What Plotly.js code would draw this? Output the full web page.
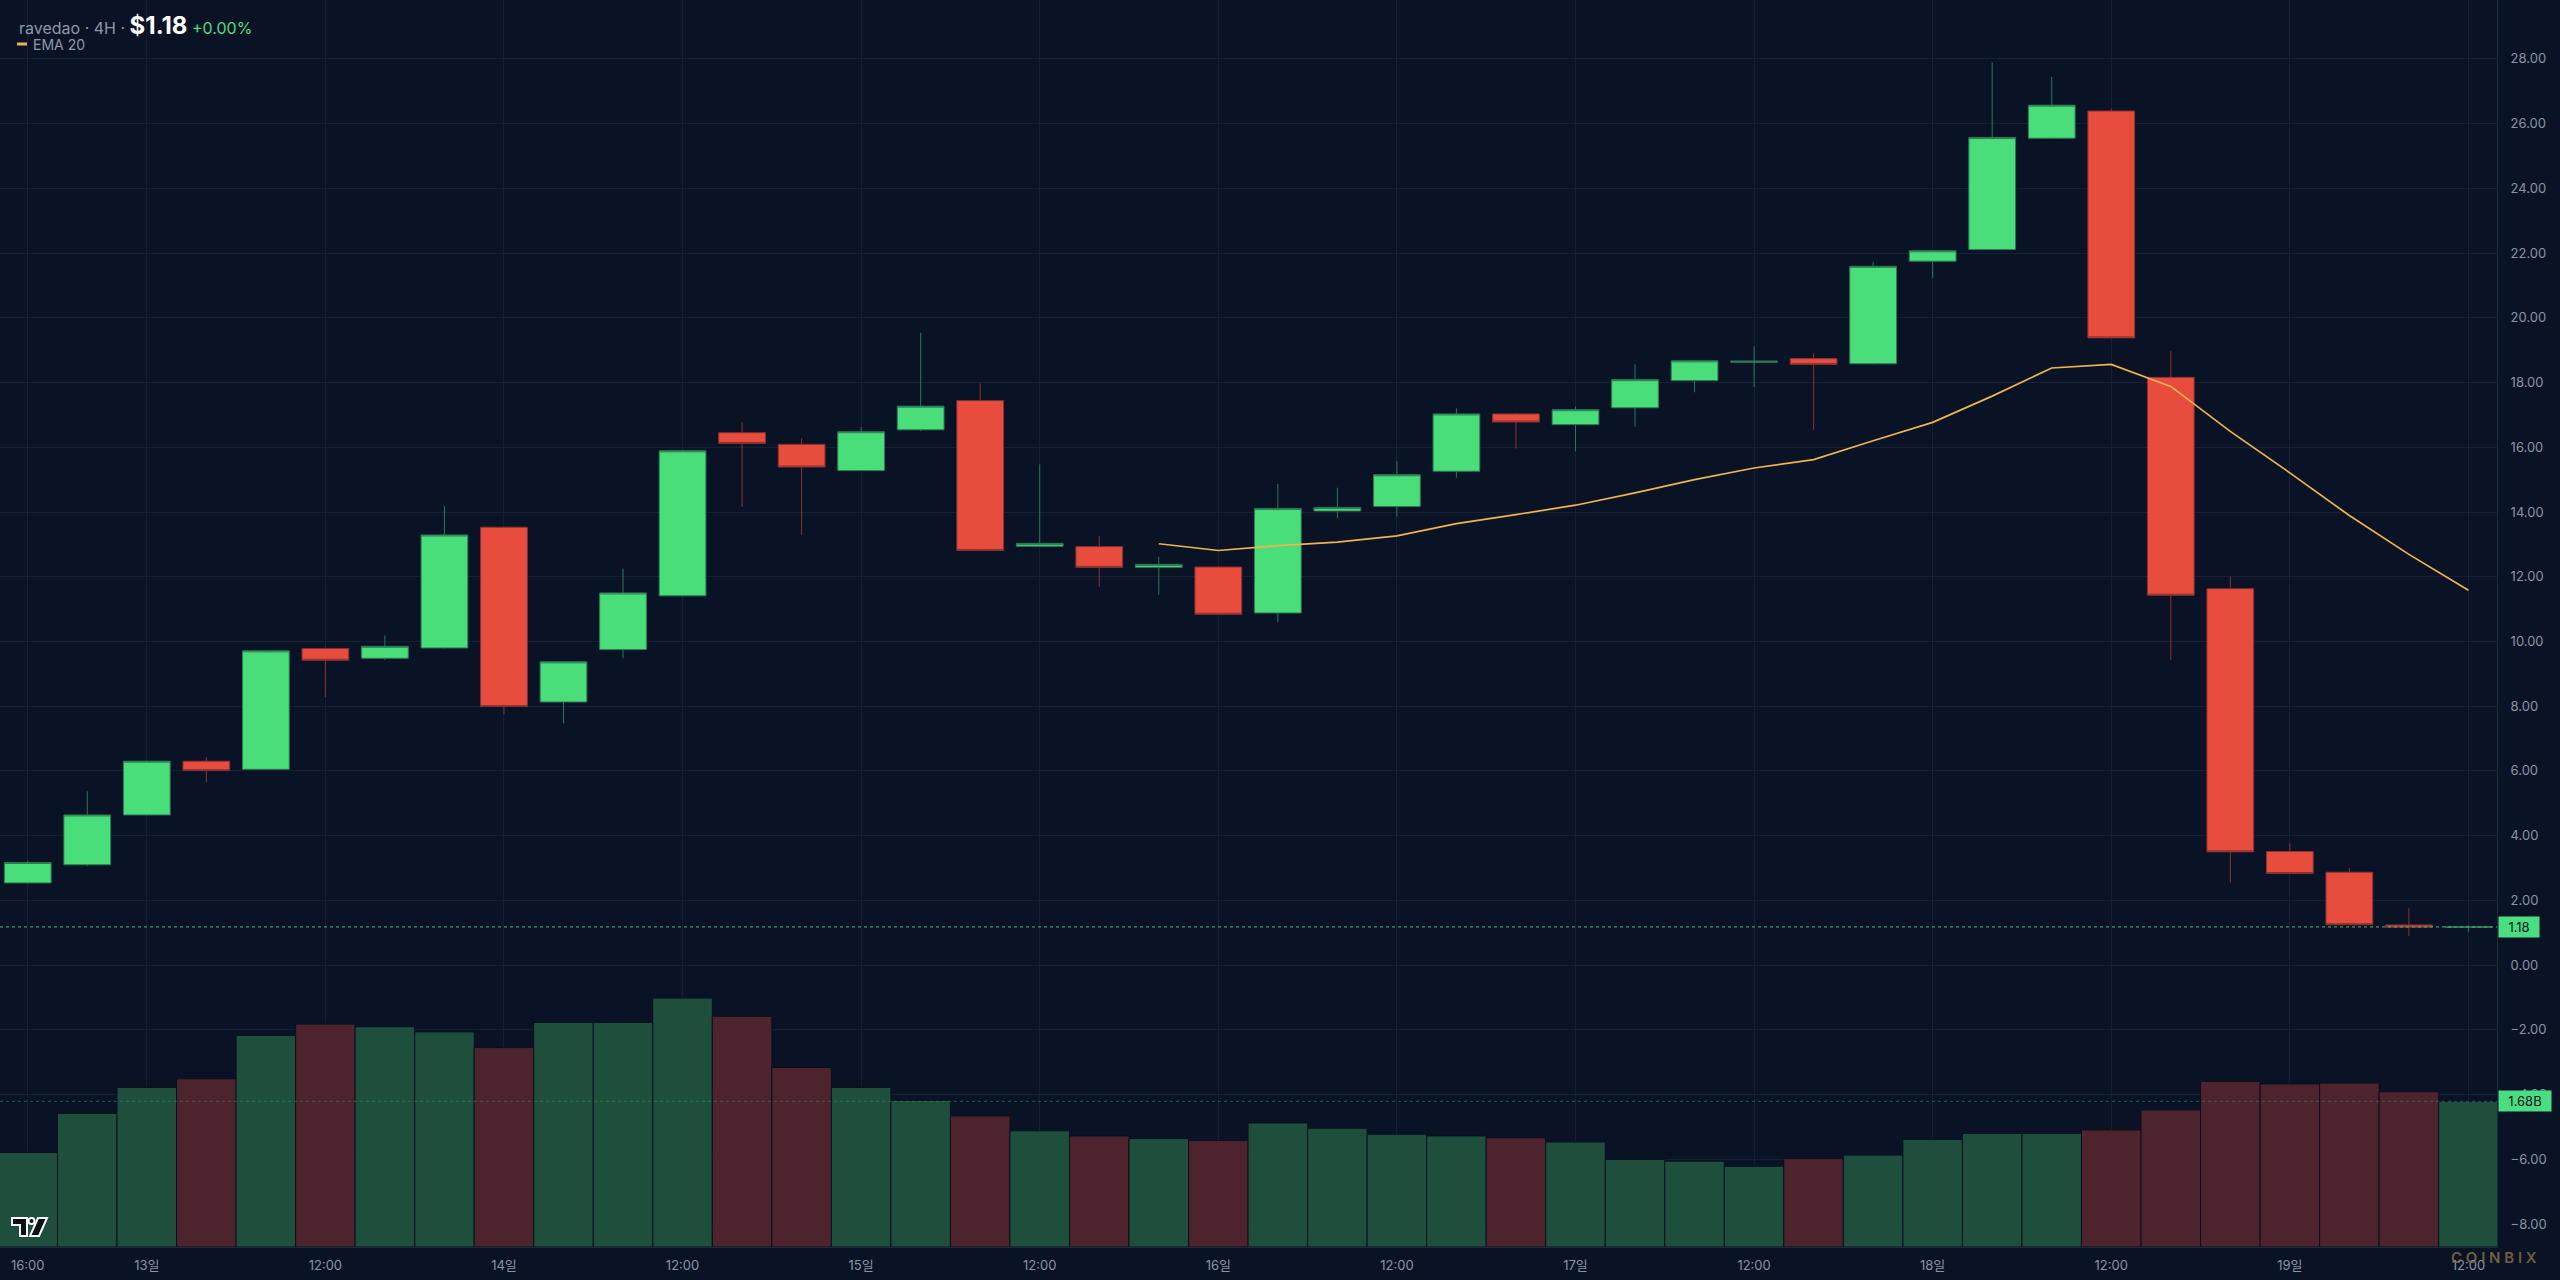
<!DOCTYPE html>
<html><head><meta charset="utf-8">
<script src="https://cdn.plot.ly/plotly-3.0.1.min.js"></script>
<style>html,body{margin:0;padding:0;background:#0a1326;}#chart{width:2560px;height:1280px;}</style>
</head><body><div id="chart"></div>
<script>
// ---- data ----
const symbol = "ravedao";
const interval = "4H";
const changePct = "+0.00%";
const times = [
 "12일 16:00","12일 20:00",
 "13일 00:00","13일 04:00","13일 08:00","13일 12:00","13일 16:00","13일 20:00",
 "14일 00:00","14일 04:00","14일 08:00","14일 12:00","14일 16:00","14일 20:00",
 "15일 00:00","15일 04:00","15일 08:00","15일 12:00","15일 16:00","15일 20:00",
 "16일 00:00","16일 04:00","16일 08:00","16일 12:00","16일 16:00","16일 20:00",
 "17일 00:00","17일 04:00","17일 08:00","17일 12:00","17일 16:00","17일 20:00",
 "18일 00:00","18일 04:00","18일 08:00","18일 12:00","18일 16:00","18일 20:00",
 "19일 00:00","19일 04:00","19일 08:00","19일 12:00"
];
const open  = [2.54,3.10,4.64,6.30,6.05,9.78,9.48,9.80,13.53,8.13,9.75,11.41,16.45,16.09,15.28,16.54,17.44,12.94,12.93,12.29,12.30,10.88,14.03,14.17,15.26,17.03,16.70,17.22,18.06,18.63,18.74,18.58,21.75,22.11,25.55,26.39,18.16,11.63,3.51,2.87,1.24,1.17];
const high  = [3.23,5.37,6.32,6.42,9.74,9.82,10.18,14.18,13.55,9.39,12.25,15.92,16.77,16.27,16.63,19.54,17.98,15.47,13.25,12.62,12.32,14.86,14.75,15.57,17.20,17.05,17.26,18.56,18.69,19.12,18.90,21.73,22.09,27.89,27.44,26.46,18.97,12.00,3.76,3.00,1.77,1.22];
const low   = [2.52,3.06,4.62,5.64,6.03,8.28,9.42,9.78,7.76,7.47,9.48,11.39,14.16,13.29,15.26,16.50,12.79,12.92,11.69,11.44,10.82,10.60,13.81,13.85,15.06,15.96,15.87,16.64,17.70,17.86,16.54,18.56,21.22,22.09,25.53,19.36,9.43,2.55,2.81,1.23,0.90,1.03];
const close = [3.17,4.64,6.30,6.01,9.71,9.42,9.85,13.29,7.99,9.37,11.50,15.89,16.12,15.39,16.48,17.27,12.81,13.03,12.29,12.38,10.84,14.11,14.14,15.15,17.03,16.78,17.16,18.09,18.67,18.66,18.56,21.59,22.07,25.57,26.57,19.38,11.43,3.50,2.83,1.25,1.17,1.18];
const volumeB = [1.09,1.54,1.84,1.94,2.44,2.57,2.54,2.48,2.30,2.59,2.59,2.87,2.66,2.07,1.84,1.69,1.51,1.34,1.28,1.25,1.23,1.43,1.37,1.30,1.28,1.26,1.21,1.01,0.99,0.93,1.02,1.06,1.24,1.31,1.31,1.35,1.58,1.91,1.88,1.89,1.79,1.68];
const ema20 = [null,null,null,null,null,null,null,null,null,null,null,null,null,null,null,null,null,null,null,
 13.02,12.81,12.96,13.07,13.26,13.64,13.92,14.21,14.59,15.00,15.36,15.62,16.20,16.77,17.58,18.45,18.56,17.88,16.49,15.21,13.89,12.69,11.58];
const xTickVals = ["12일 16:00","13일 00:00","13일 12:00","14일 00:00","14일 12:00","15일 00:00","15일 12:00","16일 00:00","16일 12:00","17일 00:00","17일 12:00","18일 00:00","18일 12:00","19일 00:00","19일 12:00"];
const xTickText = ["16:00","13일","12:00","14일","12:00","15일","12:00","16일","12:00","17일","12:00","18일","12:00","19일","12:00"];
const yTickVals = [28,26,24,22,20,18,16,14,12,10,8,6,4,2,0,-2,-4,-6,-8];
const yTickText = ["28.00","26.00","24.00","22.00","20.00","18.00","16.00","14.00","12.00","10.00","8.00","6.00","4.00","2.00","0.00","\u22122.00","\u22124.00","\u22126.00","\u22128.00"];

// ---- style ----
const BG = "#0a1326";
const GRID = "#161f33";
const AXT = "#8a93a5";
const UP = "#4ade7b", DN = "#e74c3c";
const UPV = "#1e4f3d", DNV = "#4d232d";
const FONT = "Inter, 'Noto Sans CJK KR', sans-serif";
const W = 2560, H = 1280, MR = 63, MB = 33;
const PW = W - MR, PH = H - MB;
const px = X => X / PW, py = Y => 1 - Y / PH;

const last = close.length - 1;
const lastClose = close[last];
const lastVol = volumeB[last];
const volColors = close.map((c, i) => c >= open[i] ? UPV : DNV);

const traces = [
  {type: "bar", x: times, y: volumeB, yaxis: "y", xaxis: "x",
   marker: {color: volColors, line: {color: "rgba(8,14,28,0.9)", width: 1}},
   hoverinfo: "skip", showlegend: false},
  {type: "candlestick", x: times, open: open, high: high, low: low, close: close,
   yaxis: "y2", xaxis: "x", whiskerwidth: 0,
   increasing: {line: {color: "#2a7a52", width: 1}, fillcolor: UP},
   decreasing: {line: {color: "#8a3232", width: 1}, fillcolor: DN},
   showlegend: false},
  {type: "scatter", mode: "lines", x: times, y: ema20, yaxis: "y2", xaxis: "x",
   line: {color: "#f0b44c", width: 1.7}, connectgaps: false, showlegend: false, hoverinfo: "skip"}
];

const layout = {
  width: W, height: H,
  paper_bgcolor: BG, plot_bgcolor: BG,
  margin: {l: 0, r: MR, t: 0, b: MB, pad: 0},
  showlegend: false,
  bargap: 0, boxgap: 0.215, boxgroupgap: 0,
  font: {family: FONT, color: AXT, size: 13},
  xaxis: {type: "category", range: [-0.466, 41.48], rangeslider: {visible: false},
    tickmode: "array", tickvals: xTickVals, ticktext: xTickText,
    showgrid: true, gridcolor: GRID, gridwidth: 1, zeroline: false,
    showline: true, linecolor: "#1a2a38", linewidth: 1,
    ticks: "", ticklabelstandoff: 6, tickfont: {size: 13, color: AXT, family: FONT}},
  yaxis: {range: [0, 14.38], visible: false, showgrid: false, zeroline: false, fixedrange: true},
  yaxis2: {overlaying: "y", side: "right", range: [-8.71, 29.82],
    tickmode: "array", tickvals: yTickVals, ticktext: yTickText,
    showgrid: true, gridcolor: GRID, gridwidth: 1, zeroline: false,
    showline: true, linecolor: "#1a2a38", linewidth: 1,
    ticks: "", ticklabelstandoff: 10, tickfont: {size: 13, color: AXT, family: FONT}},
  shapes: [
    {type: "line", xref: "paper", yref: "y2", x0: 0, x1: 1, y0: lastClose, y1: lastClose,
     line: {color: "#35c27a", width: 1, dash: "dot"}, layer: "above"},
    {type: "line", xref: "paper", yref: "y", x0: 0, x1: 1, y0: lastVol, y1: lastVol,
     line: {color: "rgba(60,150,100,0.55)", width: 1, dash: "dot"}, layer: "above"},
    // EMA legend swatch
    {type: "line", xref: "paper", yref: "paper", x0: px(17), x1: px(27), y0: py(44), y1: py(44),
     line: {color: "#f0b44c", width: 3}},
    // logo
    {type: "path", xref: "paper", yref: "paper",
     path: `M ${px(12)},${py(1218)} L ${px(27)},${py(1218)} L ${px(27)},${py(1236)} L ${px(20)},${py(1236)} L ${px(20)},${py(1225)} L ${px(12)},${py(1225)} Z`,
     fillcolor: "#0d1016", line: {color: "#ffffff", width: 2}},
    {type: "circle", xref: "paper", yref: "paper", x0: px(28.5), x1: px(34.5), y0: py(1224), y1: py(1218),
     fillcolor: "#0d1016", line: {color: "#ffffff", width: 2}},
    {type: "path", xref: "paper", yref: "paper",
     path: `M ${px(38)},${py(1218)} L ${px(47)},${py(1218)} L ${px(39)},${py(1236)} L ${px(30)},${py(1236)} Z`,
     fillcolor: "#0d1016", line: {color: "#ffffff", width: 2}}
  ],
  annotations: [
    {xref: "paper", yref: "paper", x: px(17), y: py(26), xanchor: "left", yanchor: "middle", showarrow: false,
     text: `${symbol} · ${interval} · <b><span style="font-size:24px;color:#ffffff">$${lastClose.toFixed(2)}</span></b> <span style="color:#4ade80">${changePct}</span>`,
     font: {family: FONT, size: 16, color: "#8f98a8"}},
    {xref: "paper", yref: "paper", x: px(31), y: py(44), xanchor: "left", yanchor: "middle", showarrow: false,
     text: "EMA 20", font: {family: FONT, size: 14, color: "#8f98a8"}},
    {xref: "paper", yref: "y2", x: 1, y: lastClose, xanchor: "left", yanchor: "middle", showarrow: false,
     xshift: 1, text: lastClose.toFixed(2), bgcolor: "#4ade80", borderpad: 3, width: 34, height: 14, align: "center",
     font: {family: FONT, size: 13, color: "#0a1326"}},
    {xref: "paper", yref: "y", x: 1, y: lastVol, xanchor: "left", yanchor: "middle", showarrow: false,
     xshift: 1, text: lastVol.toFixed(2) + "B", bgcolor: "#4ade80", borderpad: 3, width: 46, height: 14, align: "center",
     font: {family: FONT, size: 13, color: "#0a1326"}},
    {xref: "paper", yref: "paper", x: px(2494), y: py(1257), xanchor: "center", yanchor: "middle", showarrow: false,
     text: "C O I N B I X", font: {family: FONT, size: 15, color: "rgba(150,120,70,0.75)", weight: 600}}
  ]
};

Plotly.newPlot("chart", traces, layout, {displayModeBar: false, staticPlot: true});
</script>
</body></html>
